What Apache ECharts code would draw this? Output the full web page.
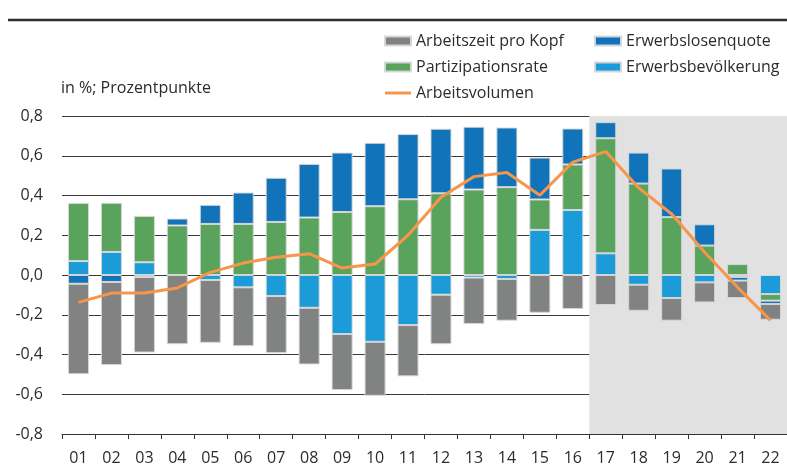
<!DOCTYPE html>
<html>
<head>
<meta charset="utf-8">
<title>Arbeitsvolumen – Komponenten</title>
<script src="https://cdn.jsdelivr.net/npm/echarts@6/dist/echarts.min.js"></script>
<style>
  html, body { margin: 0; padding: 0; background: #ffffff; }
  #chart { width: 787px; height: 469px; }
</style>
</head>
<body>
<div id="chart"></div>
<script>
// Jahre (20xx)
const years = ['01','02','03','04','05','06','07','08','09','10','11','12','13','14','15','16','17','18','19','20','21','22'];

// Beiträge der Komponenten (in %; Prozentpunkte)
const erwerbsbevoelkerung = [0.070, 0.116, 0.064, 0.000, -0.025, -0.062, -0.106, -0.165, -0.297, -0.336, -0.252, -0.099, -0.013, -0.020, 0.227, 0.327, 0.109, -0.049, -0.116, -0.037, -0.010, -0.096];
const partizipationsrate  = [0.292, 0.247, 0.233, 0.249, 0.257, 0.257, 0.267, 0.289, 0.317, 0.346, 0.381, 0.411, 0.430, 0.442, 0.153, 0.229, 0.579, 0.460, 0.291, 0.148, 0.055, -0.033];
const erwerbslosenquote   = [-0.044, -0.035, -0.010, 0.035, 0.096, 0.158, 0.222, 0.270, 0.299, 0.319, 0.328, 0.325, 0.316, 0.300, 0.211, 0.181, 0.081, 0.156, 0.245, 0.107, -0.018, -0.017];
const arbeitszeitProKopf  = [-0.455, -0.418, -0.380, -0.348, -0.316, -0.296, -0.287, -0.285, -0.282, -0.272, -0.258, -0.249, -0.234, -0.210, -0.190, -0.171, -0.151, -0.131, -0.114, -0.101, -0.088, -0.079];

// Veränderung des Arbeitsvolumens
const arbeitsvolumen = [-0.138, -0.091, -0.091, -0.065, 0.013, 0.060, 0.089, 0.107, 0.035, 0.055, 0.200, 0.391, 0.495, 0.516, 0.401, 0.568, 0.621, 0.438, 0.307, 0.114, -0.062, -0.228];

// Projektionszeitraum (Index des ersten und letzten Jahres)
const projectionRange = [16, 22];

// Achsenbeschriftung
const yTicks = { min: -0.8, max: 0.8, step: 0.2 };
const unitLabel = 'in %; Prozentpunkte';

const FONT = '"Open Sans", "Noto Sans", sans-serif';
const TEXT = '#2b2b2b';
const colors = {
  arbeitszeit: '#818383',
  erwerbslos: '#1173b9',
  partizipation: '#59a35c',
  bevoelkerung: '#1b9bd7',
  volumen: '#f7964a'
};

// Legendensymbol für die Linie: schmaler Balken mittig in der 26x9-Fläche
const lineIcon = 'path://M0,0M0,3L26,3L26,6L0,6ZM26,9';

const barBorder = { borderColor: 'rgba(215,215,215,0.95)', borderWidth: 1 };

function barSeries(name, data, color) {
  return {
    name: name,
    type: 'bar',
    stack: 'komponenten',
    barWidth: 21,
    data: data,
    itemStyle: Object.assign({ color: color }, barBorder),
    emphasis: { disabled: true }
  };
}

const chart = echarts.init(document.getElementById('chart'), null, { renderer: 'canvas' });

const legendText = { fontFamily: FONT, fontSize: 16, color: TEXT, lineHeight: 20 };

chart.setOption({
  animation: false,
  backgroundColor: '#ffffff',
  textStyle: { fontFamily: FONT },
  grid: { left: 62, right: 0, top: 116, bottom: 35, containLabel: false },
  legend: [
    {
      orient: 'vertical', left: 384, top: 31, padding: 0,
      itemWidth: 26, itemHeight: 9, itemGap: 6,
      selectedMode: false, textStyle: legendText,
      data: [
        { name: 'Arbeitszeit pro Kopf', icon: 'rect' },
        { name: 'Partizipationsrate', icon: 'rect' },
        { name: 'Arbeitsvolumen', icon: lineIcon, itemStyle: { color: colors.volumen } }
      ]
    },
    {
      orient: 'vertical', left: 594, top: 31, padding: 0,
      itemWidth: 26, itemHeight: 9, itemGap: 6,
      selectedMode: false, textStyle: legendText,
      data: [
        { name: 'Erwerbslosenquote', icon: 'rect' },
        { name: 'Erwerbsbevölkerung', icon: 'rect' }
      ]
    }
  ],
  graphic: [
    {
      type: 'line',
      shape: { x1: 8, y1: 20, x2: 787, y2: 20 },
      style: { stroke: '#2f2f2f', lineWidth: 2.5 },
      silent: true
    },
    {
      type: 'text',
      left: 61, top: 80,
      style: { text: unitLabel, font: '16px ' + FONT, fill: TEXT },
      silent: true
    }
  ],
  xAxis: [
    {
      type: 'category',
      data: years,
      position: 'bottom',
      axisLine: { onZero: false, lineStyle: { color: '#333333', width: 1 } },
      axisTick: { show: true, length: 5, lineStyle: { color: '#333333' } },
      axisLabel: { color: TEXT, fontSize: 16, fontFamily: FONT, margin: 16, interval: 0 },
      splitLine: { show: false }
    },
    {
      type: 'value',
      min: 0, max: years.length,
      show: false
    }
  ],
  yAxis: {
    type: 'value',
    min: yTicks.min, max: yTicks.max, interval: yTicks.step,
    axisLine: { show: false },
    axisTick: { show: false },
    axisLabel: {
      color: TEXT, fontSize: 16, fontFamily: FONT, margin: 19,
      formatter: v => v.toFixed(1).replace('.', ',')
    },
    splitLine: { show: true, lineStyle: { color: '#3a3a3a', width: 1 } }
  },
  series: [
    {
      name: 'Projektion',
      type: 'line',
      xAxisIndex: 1,
      yAxisIndex: 0,
      data: [],
      z: -1,
      silent: true,
      markArea: {
        silent: true,
        itemStyle: { color: '#e1e1e1' },
        data: [[
          { xAxis: projectionRange[0], yAxis: yTicks.min },
          { xAxis: projectionRange[1], yAxis: yTicks.max }
        ]]
      }
    },
    barSeries('Erwerbsbevölkerung', erwerbsbevoelkerung, colors.bevoelkerung),
    barSeries('Partizipationsrate', partizipationsrate, colors.partizipation),
    barSeries('Erwerbslosenquote', erwerbslosenquote, colors.erwerbslos),
    barSeries('Arbeitszeit pro Kopf', arbeitszeitProKopf, colors.arbeitszeit),
    {
      name: 'Arbeitsvolumen',
      type: 'line',
      data: arbeitsvolumen,
      symbol: 'none',
      z: 5,
      lineStyle: { color: colors.volumen, width: 3 },
      itemStyle: { color: colors.volumen },
      emphasis: { disabled: true }
    }
  ]
});
</script>
</body>
</html>
